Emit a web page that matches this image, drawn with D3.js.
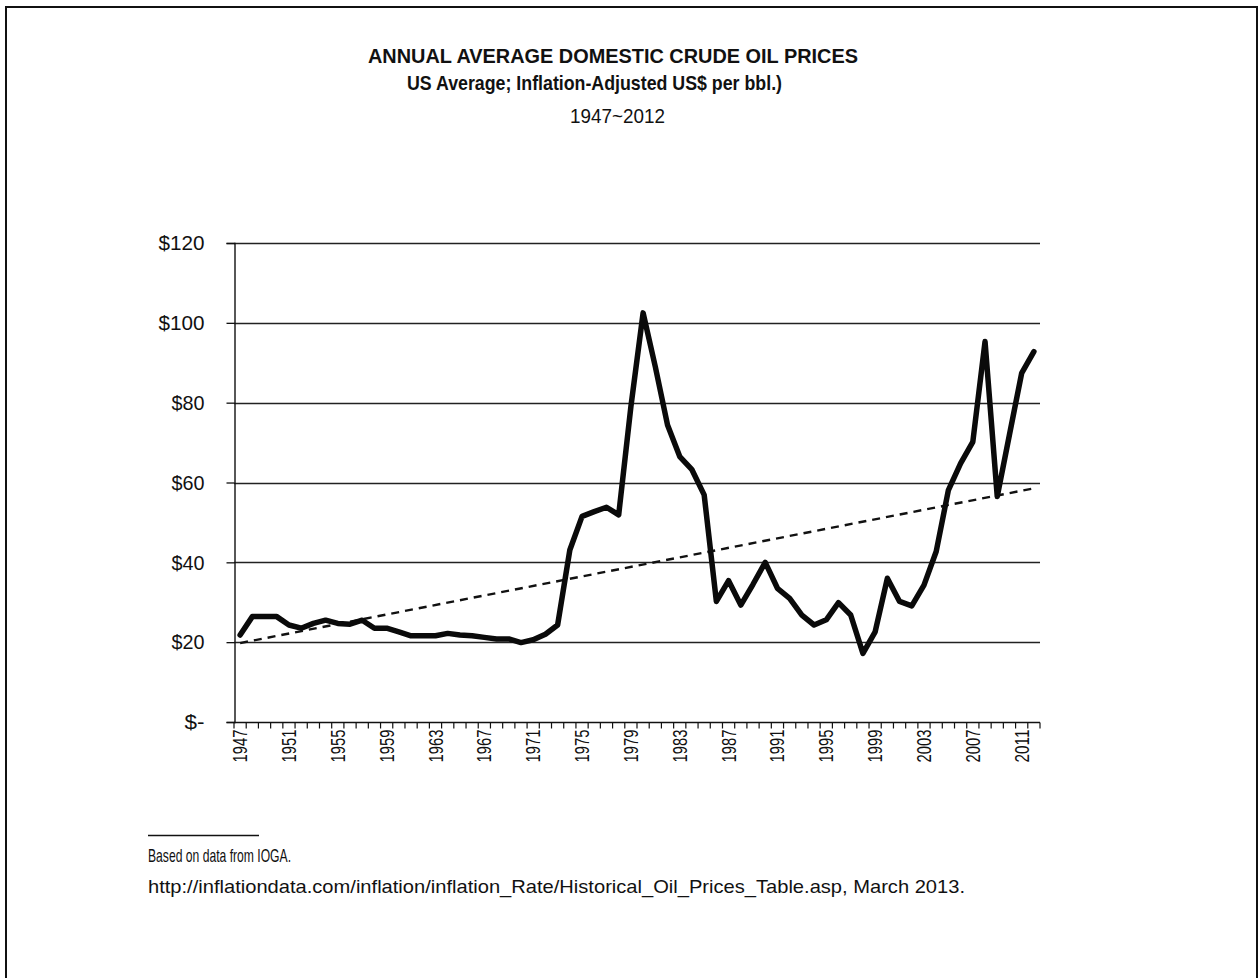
<!DOCTYPE html>
<html>
<head>
<meta charset="utf-8">
<script src="https://cdn.jsdelivr.net/npm/d3@7"></script>
<style>
  html, body { margin: 0; padding: 0; background: #fff; }
  svg { display: block; }
  text { font-family: "Liberation Sans Narrow", "Arial Narrow", "Liberation Sans", Arial, sans-serif; fill: #111; }
</style>
</head>
<body>
<svg id="chart" width="1259" height="978"></svg>
<script>
// Annual average domestic crude oil price, inflation-adjusted US$ per barrel
const years = d3.range(1947, 2013);
const prices = [
  21.8, 26.4, 26.4, 26.4, 24.3, 23.5, 24.7, 25.5, 24.7, 24.5,
  25.5, 23.5, 23.5, 22.6, 21.6, 21.6, 21.6, 22.2, 21.8, 21.6,
  21.2, 20.8, 20.8, 19.9, 20.6, 22.0, 24.3, 43.1, 51.5, 52.7,
  53.8, 51.9, 79.0, 102.5, 89.0, 74.4, 66.5, 63.2, 56.9, 30.2,
  35.4, 29.3, 34.5, 40.0, 33.5, 31.0, 26.8, 24.3, 25.6, 29.9,
  26.8, 17.2, 22.6, 36.0, 30.2, 29.1, 34.3, 42.7, 58.1, 64.8,
  70.2, 95.3, 56.5, 72.0, 87.4, 92.8
];
const yTicks = [0, 20, 40, 60, 80, 100, 120];
const yTickLabels = ["$-", "$20", "$40", "$60", "$80", "$100", "$120"];
const xLabelYears = years.filter((y, i) => i % 4 === 0);

const titleLines = [
  "ANNUAL AVERAGE DOMESTIC CRUDE OIL PRICES",
  "US Average; Inflation-Adjusted US$ per bbl.)",
  "1947~2012"
];
const notes = [
  "Based on data from IOGA.",
  "http://inflationdata.com/inflation/inflation_Rate/Historical_Oil_Prices_Table.asp, March 2013."
];

const svg = d3.select("#chart");

// condensed text: fit a string into a given width
function fitText(sel, width) {
  return sel.attr("textLength", width).attr("lengthAdjust", "spacingAndGlyphs");
}

// outer frame
svg.append("rect")
  .attr("x", 6).attr("y", 7).attr("width", 1251).attr("height", 975)
  .attr("fill", "none").attr("stroke", "#111").attr("stroke-width", 2);

// scales
const x = d3.scaleBand().domain(years).range([234, 1040]).padding(0);
const y = d3.scaleLinear().domain([0, 120]).range([722, 243]);
const cx = yr => x(yr) + x.bandwidth() / 2;

// titles
fitText(svg.append("text").attr("x", 368).attr("y", 63)
  .attr("font-size", 21).attr("font-weight", "bold").text(titleLines[0]), 490);
fitText(svg.append("text").attr("x", 407).attr("y", 90)
  .attr("font-size", 21).attr("font-weight", "bold").text(titleLines[1]), 375);
fitText(svg.append("text").attr("x", 570).attr("y", 123)
  .attr("font-size", 21).text(titleLines[2]), 95);

// horizontal gridlines
svg.append("g").selectAll("line").data(yTicks.filter(d => d > 0)).join("line")
  .attr("x1", 234).attr("x2", 1040)
  .attr("y1", d => Math.round(y(d)) + 0.5).attr("y2", d => Math.round(y(d)) + 0.5)
  .attr("stroke", "#222").attr("stroke-width", 1.4);

// y axis
const yAxis = d3.axisLeft(y).tickValues(yTicks)
  .tickFormat((d, i) => yTickLabels[i]).tickSize(8).tickPadding(22);
const gy = svg.append("g").attr("transform", "translate(234.5,0)").call(yAxis);
gy.select(".domain").attr("stroke", "#111").attr("stroke-width", 1.4);
gy.selectAll(".tick line").attr("stroke", "#111").attr("stroke-width", 1.3);
gy.selectAll(".tick text").attr("font-size", 21).attr("fill", "#111")
  .attr("font-family", "\"Liberation Sans Narrow\", \"Arial Narrow\", \"Liberation Sans\", Arial, sans-serif")
  .each(function(d, i) {
    const w = [20, 33, 33, 33, 33, 46, 46][i];
    fitText(d3.select(this), w);
  });

// x axis: tick marks between categories
const gx = svg.append("g").attr("transform", "translate(0,722.5)");
gx.append("line").attr("x1", 234).attr("x2", 1040).attr("y1", 0).attr("y2", 0)
  .attr("stroke", "#111").attr("stroke-width", 1.4);
gx.selectAll("line.tk").data(years.concat([2013])).join("line").attr("class", "tk")
  .attr("x1", d => d === 2013 ? 1040 : x(d)).attr("x2", d => d === 2013 ? 1040 : x(d))
  .attr("y1", 0).attr("y2", 6).attr("stroke", "#111").attr("stroke-width", 1.2);
gx.selectAll("text").data(xLabelYears).join("text")
  .attr("transform", d => `translate(${cx(d) + 7},${7}) rotate(-90)`)
  .attr("text-anchor", "end").attr("font-size", 21).text(d => d)
  .each(function() { fitText(d3.select(this), 33); });

// linear trend (least squares over the series)
const n = years.length;
const mx = d3.mean(years), my = d3.mean(prices);
const slope = d3.sum(years, (yr, i) => (yr - mx) * (prices[i] - my)) / d3.sum(years, yr => (yr - mx) ** 2);
const icpt = my - slope * mx;
const trend = [years[0], years[n - 1]].map(yr => [yr, icpt + slope * yr]);
svg.append("path")
  .attr("d", d3.line().x(d => cx(d[0])).y(d => y(d[1]))(trend))
  .attr("fill", "none").attr("stroke", "#111").attr("stroke-width", 2.4)
  .attr("stroke-dasharray", "8,6");

// price line
svg.append("path")
  .attr("d", d3.line().x((d, i) => cx(years[i])).y(d => y(d))(prices))
  .attr("fill", "none").attr("stroke", "#0a0a0a").attr("stroke-width", 5.5)
  .attr("stroke-linejoin", "round").attr("stroke-linecap", "round");

// notes
svg.append("line").attr("x1", 148).attr("x2", 259).attr("y1", 835.5).attr("y2", 835.5)
  .attr("stroke", "#111").attr("stroke-width", 1.4);
fitText(svg.append("text").attr("x", 148).attr("y", 862).attr("font-size", 19).text(notes[0]), 143);
fitText(svg.append("text").attr("x", 148).attr("y", 893).attr("font-size", 19).text(notes[1]), 817);
</script>
</body>
</html>
